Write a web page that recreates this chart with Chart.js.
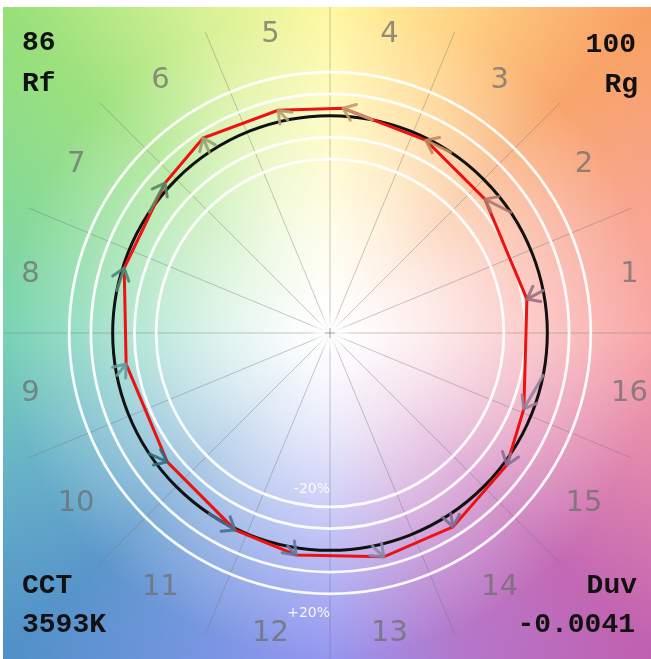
<!DOCTYPE html>
<html><head><meta charset="utf-8">
<script src="https://cdn.jsdelivr.net/npm/chart.js@4"></script>
<style>html,body{margin:0;padding:0;background:#fff;overflow:hidden}</style>
</head><body>
<canvas id="c" width="651" height="659" style="display:block;width:651px;height:659px"></canvas>
<script>
// ---- data ----
const binLabels = ['1','2','3','4','5','6','7','8','9','10','11','12','13','14','15','16'];
const binAngles = [11.25,33.75,56.25,78.75,101.25,123.75,146.25,168.75,191.25,213.75,236.25,258.75,281.25,303.75,326.25,348.75];
const testX = [0.906,0.713,0.441,0.060,-0.239,-0.584,-0.759,-0.947,-0.938,-0.749,-0.437,-0.156,0.248,0.566,0.814,0.892];
const testY = [0.156,0.616,0.887,1.034,1.025,0.897,0.690,0.299,-0.143,-0.593,-0.906,-1.021,-1.030,-0.892,-0.607,-0.349];
const arrowColors = ['#9a707c','#ad7870','#c08a5e','#c09c6c','#b0a070','#98a070','#5e8462','#4e8a78','#5e9c9c','#2a6e7e','#4a6e90','#66789e','#8888a6','#7c6c98','#886e92','#9a8098'];
const ringRadii = [0.8, 0.9, 1.1, 1.2];
const refRadius = 1.0;
const labelRadius = 1.405;
const cornerTL = ['86','Rf'];
const cornerTR = ['100','Rg'];
const cornerBL = ['CCT','3593K'];
const cornerBR = ['Duv','-0.0041'];
const pctLabels = [['-20%', -0.72], ['+20%', -1.29]];
const hueStops = [[0,'#f8a0a0'],[22.5,'#f8a08a'],[45,'#f8a062'],[67.5,'#ffd07e'],[90,'#fff89c'],[112.5,'#d4f090'],[135,'#98e078'],[157.5,'#80d890'],[180,'#70d0b0'],[202.5,'#60b0c4'],[225,'#5090c8'],[247.5,'#7090e0'],[270,'#9090f0'],[292.5,'#b070c8'],[315,'#c060b0'],[337.5,'#e080a8'],[360,'#f8a0a0']];

const polyData = testX.map((v,i)=>({x:v,y:testY[i]}));
polyData.push({x:testX[0],y:testY[0]});

function geo(chart){
  const x = chart.scales.x, y = chart.scales.y;
  const cx = x.getPixelForValue(0), cy = y.getPixelForValue(0);
  const ux = x.getPixelForValue(1)-cx, uy = cy - y.getPixelForValue(1);
  return {x,y,cx,cy,ux,uy};
}

const drawPlugin = {
  id:'tm30',
  beforeDraw(chart){
    const ctx = chart.ctx, a = chart.chartArea;
    const g = geo(chart);
    ctx.save();
    ctx.fillStyle = '#fff';
    ctx.fillRect(0,0,chart.width,chart.height);
    ctx.beginPath(); ctx.rect(a.left,a.top,a.right-a.left,a.bottom-a.top); ctx.clip();
    const cg = ctx.createConicGradient(0, g.cx, g.cy);
    hueStops.forEach(([d,c])=>cg.addColorStop((360-d)/360, c));
    ctx.fillStyle = cg;
    ctx.fillRect(a.left,a.top,a.right-a.left,a.bottom-a.top);
    const rg = ctx.createRadialGradient(g.cx,g.cy,0,g.cx,g.cy,g.ux*2.1);
    rg.addColorStop(0,'rgba(255,255,255,1)');
    rg.addColorStop(0.08,'rgba(255,255,255,0.96)');
    rg.addColorStop(0.22,'rgba(255,255,255,0.8)');
    rg.addColorStop(0.47,'rgba(255,255,255,0.42)');
    rg.addColorStop(0.71,'rgba(255,255,255,0.06)');
    rg.addColorStop(1,'rgba(255,255,255,0)');
    ctx.fillStyle = rg;
    ctx.fillRect(a.left,a.top,a.right-a.left,a.bottom-a.top);

    // radial lines
    ctx.strokeStyle = 'rgba(110,110,110,0.38)';
    ctx.lineWidth = 1;
    for(let k=0;k<16;k++){
      const t = k*22.5*Math.PI/180;
      ctx.beginPath();
      ctx.moveTo(g.cx,g.cy);
      ctx.lineTo(g.cx+Math.cos(t)*1.5*g.ux, g.cy-Math.sin(t)*1.5*g.uy);
      ctx.stroke();
    }
    // center glow
    const cgw = ctx.createRadialGradient(g.cx,g.cy,0,g.cx,g.cy,22);
    cgw.addColorStop(0,'rgba(255,255,255,1)');
    cgw.addColorStop(0.5,'rgba(255,255,255,0.7)');
    cgw.addColorStop(1,'rgba(255,255,255,0)');
    ctx.fillStyle = cgw;
    ctx.beginPath(); ctx.arc(g.cx,g.cy,22,0,Math.PI*2); ctx.fill();
    ctx.strokeStyle = 'rgba(120,120,120,0.7)';
    ctx.lineWidth = 1;
    ctx.beginPath(); ctx.moveTo(g.cx-5,g.cy); ctx.lineTo(g.cx+5,g.cy);
    ctx.moveTo(g.cx,g.cy-5); ctx.lineTo(g.cx,g.cy+5); ctx.stroke();

    // white rings
    ctx.strokeStyle = 'rgba(255,255,255,0.92)';
    ctx.lineWidth = 2.8;
    ringRadii.forEach(r=>{
      ctx.beginPath(); ctx.ellipse(g.cx,g.cy,r*g.ux,r*g.uy,0,0,Math.PI*2); ctx.stroke();
    });
    // reference circle
    ctx.strokeStyle = '#111';
    ctx.lineWidth = 3;
    ctx.beginPath(); ctx.ellipse(g.cx,g.cy,refRadius*g.ux,refRadius*g.uy,0,0,Math.PI*2); ctx.stroke();

    // bin labels
    ctx.fillStyle = 'rgba(110,110,110,0.75)';
    ctx.font = '29px "DejaVu Sans"';
    ctx.textAlign = 'center';
    ctx.textBaseline = 'middle';
    binLabels.forEach((l,i)=>{
      const t = binAngles[i]*Math.PI/180;
      ctx.fillText(l, g.cx+Math.cos(t)*labelRadius*g.ux, g.cy-Math.sin(t)*labelRadius*g.uy+1);
    });
    // pct labels
    ctx.fillStyle = 'rgba(255,255,255,0.9)';
    ctx.font = '14px "DejaVu Sans"';
    ctx.textAlign = 'right';
    pctLabels.forEach(([t,v])=>{
      ctx.fillText(t, g.cx, g.y.getPixelForValue(v));
    });
    ctx.restore();
  },
  afterDatasetsDraw(chart){
    const ctx = chart.ctx;
    const g = geo(chart);
    ctx.save();
    ctx.lineCap = 'round';
    ctx.lineJoin = 'round';
    binAngles.forEach((d,i)=>{
      const t = d*Math.PI/180;
      const x0 = g.x.getPixelForValue(Math.cos(t)*refRadius), y0 = g.y.getPixelForValue(Math.sin(t)*refRadius);
      const x1 = g.x.getPixelForValue(testX[i]), y1 = g.y.getPixelForValue(testY[i]);
      const ang = Math.atan2(y1-y0, x1-x0);
      const L = 14, w = 0.65;
      ctx.strokeStyle = arrowColors[i];
      ctx.globalAlpha = 0.9;
      ctx.lineWidth = 3;
      ctx.beginPath();
      ctx.moveTo(x0,y0); ctx.lineTo(x1,y1);
      ctx.moveTo(x1-L*Math.cos(ang-w), y1-L*Math.sin(ang-w));
      ctx.lineTo(x1,y1);
      ctx.lineTo(x1-L*Math.cos(ang+w), y1-L*Math.sin(ang+w));
      ctx.stroke();
    });
    ctx.globalAlpha = 1;
    // corner texts
    ctx.fillStyle = '#111';
    ctx.font = 'bold 28px "Liberation Mono"';
    ctx.textBaseline = 'alphabetic';
    ctx.textAlign = 'left';
    ctx.fillText(cornerTL[0], 22, 50);
    ctx.fillText(cornerTL[1], 22, 91);
    ctx.fillText(cornerBL[0], 22, 593);
    ctx.fillText(cornerBL[1], 22, 632);
    ctx.textAlign = 'right';
    ctx.fillText(cornerTR[0], 636, 52);
    ctx.fillText(cornerTR[1], 638, 92);
    ctx.fillText(cornerBR[0], 637, 593);
    ctx.fillText(cornerBR[1], 635, 632);
    ctx.restore();
  }
};

new Chart(document.getElementById('c'), {
  type:'scatter',
  data:{datasets:[{
    data: polyData,
    showLine:true,
    borderColor:'#ee1111',
    borderWidth:3,
    pointRadius:0,
    tension:0,
    fill:false
  }]},
  options:{
    responsive:false,
    animation:false,
    devicePixelRatio:1,
    layout:{padding:{left:3,top:7,right:0,bottom:0}},
    plugins:{legend:{display:false},tooltip:{enabled:false}},
    scales:{
      x:{type:'linear',display:false,min:-1.5046,max:1.477},
      y:{type:'linear',display:false,min:-1.5,max:1.5}
    }
  },
  plugins:[drawPlugin]
});
</script>
</body></html>
